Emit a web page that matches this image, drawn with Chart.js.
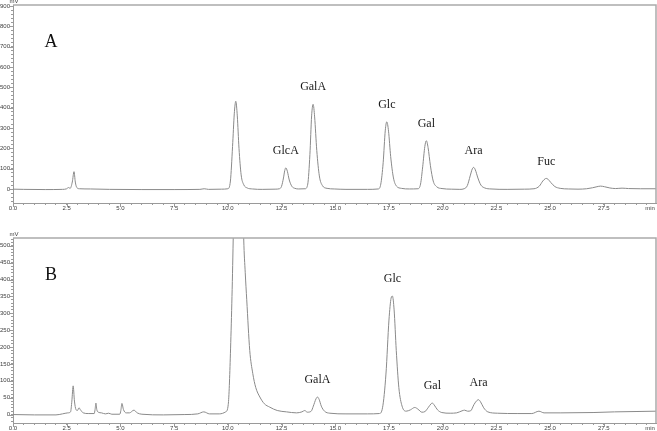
<!DOCTYPE html>
<html><head><meta charset="utf-8">
<script src="https://cdn.jsdelivr.net/npm/chart.js@4.4.0/dist/chart.umd.min.js"></script>
<style>
html,body{margin:0;padding:0;background:#fff;width:657px;height:431px;overflow:hidden;position:relative;}
#wa{position:absolute;left:0;top:0;width:657px;height:215px;}
#wb{position:absolute;left:0;top:225px;width:657px;height:206px;}
</style></head><body>
<div id="wa"><canvas id="ca"></canvas></div>
<div id="wb"><canvas id="cb"></canvas></div>
<script>
// ---- tick labels ----
const xMajorTicks = [0, 2.5, 5, 7.5, 10, 12.5, 15, 17.5, 20, 22.5, 25, 27.5];
const xTickLabels = ['0.0','2.5','5.0','7.5','10.0','12.5','15.0','17.5','20.0','22.5','25.0','27.5'];
const yMajorTicksA = [0,100,200,300,400,500,600,700,800,900];
const yMajorTicksB = [0,50,100,150,200,250,300,350,400,450,500];

// ---- chromatogram A (time in min, signal in mV) ----
const timeA = [
  0, 0.5, 1.5, 2.3, 2.5, 2.58, 2.66, 2.76, 2.84, 2.9, 2.97, 3.1, 3.6, 4.5, 6.0, 7.5, 8.7, 8.9, 9.1, 9.7,
  10.0, 10.12, 10.22, 10.3, 10.37, 10.44, 10.52, 10.62, 10.74, 10.9, 11.15, 11.6, 12.2,
  12.4, 12.5, 12.59, 12.65, 12.7, 12.77, 12.86, 12.98, 13.12, 13.3,
  13.6, 13.72, 13.82, 13.9, 13.97, 14.04, 14.14, 14.26, 14.4, 14.62, 14.95, 15.5, 16.5,
  17.0, 17.12, 17.23, 17.33, 17.4, 17.48, 17.58, 17.71, 17.85, 18.08, 18.45,
  18.85, 18.97, 19.07, 19.17, 19.24, 19.32, 19.43, 19.56, 19.72, 19.97, 20.4, 20.8,
  21.0, 21.15, 21.28, 21.38, 21.44, 21.52, 21.64, 21.78, 21.96, 22.25, 23.0, 23.8,
  24.25, 24.5, 24.66, 24.77, 24.82, 24.9, 25.04, 25.22, 25.47, 25.85, 26.3,
  26.7, 26.98, 27.18, 27.35, 27.53, 27.78, 28.05, 28.35, 28.65, 29.2, 29.93
];
const signalA = [
  0, -1, -2, -1, 2, 8, 4, 35, 86, 35, 8, 2, 1, -1, -2, -2, -1, 2, -1, 0,
  2, 40, 210, 370, 432, 360, 200, 70, 22, 6, 1, -1, 0,
  2, 14, 55, 92, 105, 88, 45, 14, 4, 1,
  2, 25, 170, 360, 417, 355, 190, 65, 18, 4, 1, -1, -1,
  1, 25, 130, 290, 331, 285, 160, 55, 15, 4, 1,
  2, 25, 110, 210, 238, 205, 115, 40, 12, 3, 0, -1,
  2, 18, 65, 100, 107, 95, 55, 20, 6, 1, -1, 0,
  2, 15, 40, 51, 53, 49, 32, 13, 4, 1, 0,
  2, 7, 12, 15, 12, 6, 3, 5, 3, 2, 2
];
const peakNamesA = ['GlcA','GalA','Glc','Gal','Ara','Fuc'];
const peakTimesA = [12.7, 13.97, 17.4, 19.24, 21.44, 24.82];

// ---- chromatogram B ----
const timeB = [
  0, 1.0, 2.0, 2.3, 2.55, 2.68, 2.74, 2.8, 2.86, 2.93, 3.0, 3.07, 3.14, 3.27, 3.5,
  3.78, 3.82, 3.86, 3.9, 3.97, 4.12, 4.3, 4.45, 4.6, 4.97, 5.02, 5.07, 5.14, 5.27, 5.42, 5.63, 5.78,
  6.0, 7.0, 8.0, 8.6, 8.88, 9.15, 9.6, 9.9,
  10.02, 10.12, 10.25, 10.4, 10.5, 10.62, 10.74, 10.81, 10.88, 11.02, 11.16, 11.3, 11.49, 11.7, 11.95, 12.3, 12.73, 13.2,
  13.45, 13.58, 13.7, 13.88, 13.98, 14.1, 14.17, 14.25, 14.35, 14.5, 14.75, 15.5, 16.5,
  17.05, 17.2, 17.36, 17.5, 17.6, 17.66, 17.74, 17.84, 17.96, 18.11, 18.3,
  18.5, 18.7, 18.85, 19.03, 19.18, 19.32, 19.46, 19.52, 19.61, 19.76, 19.96, 20.35,
  20.65, 20.9, 21.02, 21.16, 21.3, 21.46, 21.6, 21.67, 21.76, 21.91, 22.1, 22.55,
  23.5, 24.15, 24.48, 24.72, 25.5, 27.0, 28.0, 29.0, 29.93
];
const signalB = [
  0, -1, -1, 2, 5, 8, 40, 85, 40, 15, 12, 20, 14, 5, 3,
  3, 15, 34, 15, 7, 5, 2, 4, 1, 1, 12, 33, 15, 5, 5, 13, 5,
  1, -1, 0, 2, 8, 2, 2, 8,
  30, 180, 520, 1150, 1300, 900, 520, 420, 340, 190, 122, 80, 52, 32, 22, 12, 8, 5,
  8, 12, 7, 10, 25, 46, 52, 45, 25, 10, 4, 2, 2,
  3, 20, 120, 280, 345, 351, 310, 190, 80, 25, 10,
  14, 21, 16, 7, 9, 20, 32, 34, 28, 14, 6, 4,
  5, 11, 13, 10, 11, 30, 42, 44, 38, 20, 8, 4,
  3, 3, 10, 5, 5, 6, 8, 9, 10
];
const peakNamesB = ['GalA','Glc','Gal','Ara'];
const peakTimesB = [14.17, 17.66, 19.52, 21.67];

// ---- drawing ----
const TICK_FONT = {family:'"Liberation Sans", Arial, sans-serif', size:6};
const TICK_COLOR = '#404040';
const AXIS_COLOR = '#9a9a9a';
const TRACE_COLOR = '#8a8a8a';
const X_MAX = 29.93;

function stepTicks(min, max, step){
  const out = [];
  const start = Math.ceil(min/step - 1e-9);
  for (let i = start; i*step <= max + 1e-9; i++) out.push({value: Math.round(i*step*1000)/1000});
  return out;
}

const deco = {
  id:'deco',
  afterDraw(chart, args, o){
    const {ctx, chartArea:a} = chart;
    const x = chart.scales.x, y = chart.scales.y;
    ctx.save();
    ctx.strokeStyle = '#ababab'; ctx.lineWidth = 1.5;
    ctx.beginPath(); ctx.moveTo(a.left, a.top); ctx.lineTo(a.right, a.top); ctx.lineTo(a.right, a.bottom); ctx.stroke();
    ctx.strokeStyle = AXIS_COLOR; ctx.lineWidth = 1;
    ctx.beginPath();
    xMajorTicks.forEach(v => { const px = Math.round(x.getPixelForValue(v)) + 0.5; ctx.moveTo(px, a.bottom); ctx.lineTo(px, a.bottom + 4); });
    o.yMajors.forEach(v => { const py = Math.round(y.getPixelForValue(v)) + 0.5; ctx.moveTo(a.left, py); ctx.lineTo(a.left - 4, py); });
    ctx.stroke();
    ctx.fillStyle = TICK_COLOR;
    ctx.font = '6px "Liberation Sans", Arial, sans-serif';
    ctx.textAlign = 'center'; ctx.textBaseline = 'bottom';
    ctx.fillText('mV', a.left + 1, a.top - 0.5);
    ctx.textBaseline = 'top';
    ctx.fillText('min', a.right - 6, a.bottom + 2);
    ctx.fillStyle = '#111';
    ctx.font = '18px "Liberation Serif", "Times New Roman", serif';
    ctx.textBaseline = 'middle';
    ctx.fillText(o.letter, a.left + 38, a.top + 37);
    ctx.fillStyle = '#1a1a1a';
    ctx.font = '12px "Liberation Serif", "Times New Roman", serif';
    o.names.forEach((n, i) => {
      const t = o.times[i];
      const v = o.values[o.allTimes.indexOf(t)];
      ctx.fillText(n, x.getPixelForValue(t), y.getPixelForValue(v) - 17);
    });
    ctx.restore();
  }
};

function makeChart(id, times, values, yMin, yMax, yStep, yMajors, names, peakTimes, letter, padTop, xAxisH){
  const pts = times.map((t, i) => ({x: t, y: values[i]}));
  return new Chart(document.getElementById(id), {
    type:'line',
    data:{datasets:[{data:pts, borderColor:TRACE_COLOR, borderWidth:1, pointRadius:0, cubicInterpolationMode:'monotone', fill:false}]},
    options:{
      responsive:true, maintainAspectRatio:false, animation:false,
      layout:{padding:{top:padTop, right:1, left:0, bottom:0}},
      plugins:{legend:{display:false}, tooltip:{enabled:false},
        deco:{letter, names, times:peakTimes, values, allTimes:times, yMajors}},
      scales:{
        x:{type:'linear', min:0, max:X_MAX,
          afterBuildTicks: s => { s.ticks = stepTicks(0, X_MAX, 0.5); },
          afterFit: s => { s.height = xAxisH; },
          ticks:{autoSkip:false, maxRotation:0, minRotation:0, padding:0, font:TICK_FONT, color:TICK_COLOR,
            callback: v => { const i = xMajorTicks.findIndex(m => Math.abs(m - v) < 1e-6); return i >= 0 ? xTickLabels[i] : ''; }},
          grid:{drawOnChartArea:false, tickLength:2, color:AXIS_COLOR},
          border:{color:AXIS_COLOR, width:1}},
        y:{type:'linear', min:yMin, max:yMax,
          afterBuildTicks: s => { s.ticks = stepTicks(yMin, yMax, yStep); },
          afterFit: s => { s.width = 13; },
          ticks:{autoSkip:false, padding:1, font:TICK_FONT, color:TICK_COLOR,
            callback: v => (yMajors.indexOf(v) >= 0 ? String(v) : '')},
          grid:{drawOnChartArea:false, tickLength:2, color:AXIS_COLOR},
          border:{color:AXIS_COLOR, width:1}}
      }
    },
    plugins:[deco]
  });
}

makeChart('ca', timeA, signalA, -68, 905, 20, yMajorTicksA, peakNamesA, peakTimesA, 'A', 5, 12);
makeChart('cb', timeB, signalB, -25, 523, 10, yMajorTicksB, peakNamesB, peakTimesB, 'B', 13, 8);
</script>
</body></html>
